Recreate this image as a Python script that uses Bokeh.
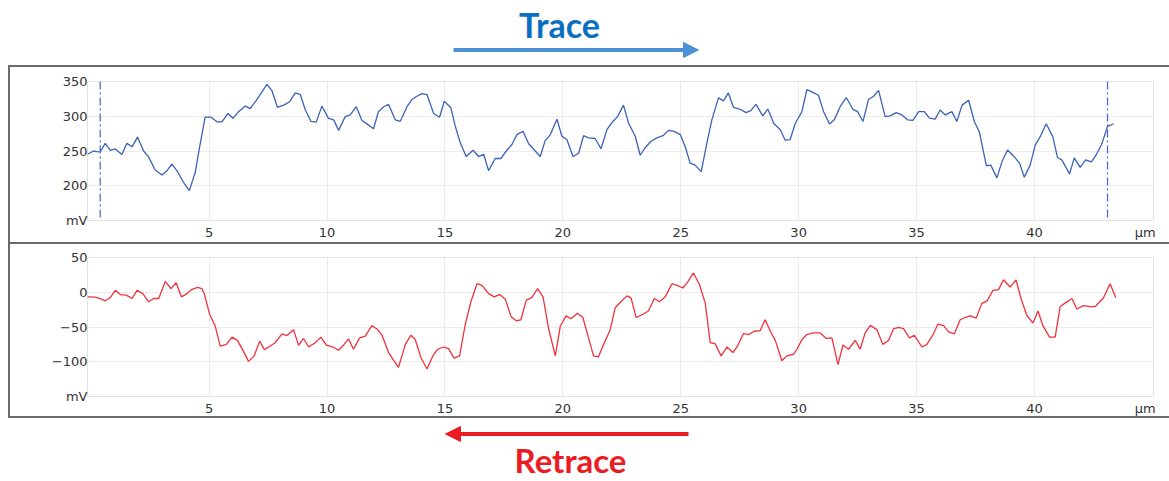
from bokeh.plotting import figure
from bokeh.models import Range1d, FixedTicker, Span, Arrow, NormalHead, Spacer
from bokeh.layouts import column, row
from bokeh.core.properties import value
from bokeh.embed import file_html
from bokeh.resources import INLINE

# ---------------- data ----------------
trace_x = [
    -0.16, 0.10, 0.24, 0.38, 0.59, 0.81, 1.02, 1.30, 1.51, 1.73,
    1.96, 2.22, 2.43, 2.71, 3.00, 3.21, 3.42, 3.63, 3.91, 4.16,
    4.41, 4.59, 4.83, 5.08, 5.33, 5.54, 5.80, 6.01, 6.25, 6.53,
    6.74, 7.00, 7.24, 7.45, 7.66, 7.90, 8.16, 8.41, 8.65, 8.86,
    9.08, 9.32, 9.54, 9.78, 10.06, 10.28, 10.49, 10.77, 10.98, 11.24,
    11.48, 11.69, 11.97, 12.18, 12.40,
    12.61, 12.89, 13.10, 13.39, 13.60, 13.81, 14.02, 14.24, 14.52, 14.77,
    14.97, 15.25, 15.44, 15.65, 15.90, 16.19, 16.43, 16.64, 16.85, 17.13,
    17.37, 17.60, 17.84, 18.05, 18.31, 18.55, 18.79, 19.04, 19.25, 19.47,
    19.75, 19.96, 20.17, 20.43, 20.67, 20.88, 21.09, 21.37, 21.62, 21.87,
    22.12, 22.32, 22.57, 22.79, 23.07, 23.28, 23.49, 23.74, 23.99, 24.25,
    24.48, 24.72, 24.98, 25.19, 25.40, 25.61, 25.87, 26.11, 26.32, 26.60,
    26.81, 27.02, 27.24, 27.52, 27.77, 27.97, 28.19, 28.48, 28.69,
    28.80, 28.94, 29.22, 29.43, 29.64, 29.86, 30.14, 30.35, 30.56, 30.84,
    31.06, 31.31, 31.51, 31.76, 32.02, 32.30, 32.50, 32.73, 32.96, 33.18,
    33.39, 33.67, 33.88, 34.14, 34.38, 34.62, 34.85, 35.09, 35.33, 35.55,
    35.79, 36.00, 36.22, 36.50, 36.71, 36.93, 37.21, 37.45, 37.67, 37.96,
    38.15, 38.41, 38.62, 38.86, 39.11, 39.37, 39.57, 39.82, 40.03, 40.27,
    40.50, 40.78, 40.98, 41.16, 41.49, 41.69, 41.94, 42.17, 42.42, 42.61,
    42.85, 43.10, 43.36,
]
trace_mv = [
    245.3, 250, 249.1, 248.6, 261, 251, 253, 245, 261, 256,
    270, 250, 241.5, 222.6, 215.6, 221.7, 231, 221.7, 205, 193,
    219.4, 254.7, 298.6, 298.6, 292, 292, 304, 297, 306.6, 314.6,
    311, 323, 335, 345.8, 337, 312.7, 316, 320.8, 333.5, 331.6,
    309, 292.5, 291.5, 314.6, 297, 294.8, 279.7, 299.5, 302, 313.7,
    293.9, 289, 282, 306.6, 313.7,
    317, 294.8, 292.5, 313.7, 324, 328.8, 332.5, 331, 304, 298.6,
    321.7, 312.3, 285.4, 261.8, 242, 251, 242, 245.3, 221.7, 239.2,
    239.2, 250, 259.4, 273.6, 278.3, 260.4, 251.4, 242, 265, 273.6,
    295.8, 271.2, 266.5, 242, 246.7, 272, 269, 268, 253.3, 280.7,
    292.5, 299.5, 316, 290, 271.2, 243.9, 254.7, 264, 268.9, 272,
    279.7, 278.3, 273.6, 256.1, 232.5, 229.7, 220.3, 261.8, 294.8, 326.4,
    322.2, 333.5, 312.7, 310, 305.2, 308, 317, 300.5, 310.4,
    301.9, 290, 280.7, 265.6, 266.5, 290, 306.6, 338.2, 335, 330.2,
    306.6, 289, 294.8, 313.7, 326.9, 310, 306.6, 292.5, 324, 328.8,
    337.3, 299.5, 300.5, 305.2, 301.9, 294.8, 294, 306.6, 306.6, 297.2,
    295.8, 309, 301.9, 306.6, 292.5, 316, 323, 292.5, 276.9, 228.8,
    229.7, 211.3, 234.4, 251.4, 242.9, 232.5, 212.3, 229.7, 258, 272.2,
    289.2, 270.3, 240.6, 237.3, 217, 240.1, 226.4, 237.3, 234.4, 243.9,
    259.4, 285.4, 289.2,
]
retrace_x = [
    -0.16, 0.17, 0.38, 0.59, 0.81, 1.02, 1.23, 1.48, 1.73, 1.94,
    2.19, 2.43, 2.64, 2.86, 3.14, 3.38, 3.60, 3.82, 4.06, 4.27,
    4.51, 4.69, 4.79, 5.02, 5.26, 5.47, 5.73, 5.97, 6.20, 6.46,
    6.67, 6.91, 7.14, 7.34, 7.59, 7.80, 8.09, 8.30, 8.58, 8.79,
    9.00, 9.22, 9.50, 9.74, 9.97, 10.25, 10.49, 10.70, 10.91, 11.12,
    11.38, 11.62, 11.90, 12.12, 12.33,
    12.61, 12.82, 13.03, 13.32, 13.56, 13.74, 13.98, 14.24, 14.49, 14.69,
    14.94, 15.15, 15.39, 15.62, 15.86, 16.10, 16.36, 16.57, 16.85, 17.09,
    17.32, 17.56, 17.80, 18.02, 18.22, 18.45, 18.69, 18.93, 19.16, 19.39,
    19.68, 19.89, 20.14, 20.34, 20.62, 20.85, 21.09, 21.30, 21.51, 21.73,
    22.01, 22.22, 22.46, 22.72, 22.89, 23.11, 23.40, 23.63, 23.88, 24.10,
    24.34, 24.63, 24.84, 25.09, 25.29, 25.54, 25.80, 26.04, 26.25, 26.46,
    26.71, 26.96, 27.21, 27.41, 27.66, 27.87, 28.12, 28.37, 28.58,
    28.80, 29.01, 29.29, 29.50, 29.79, 29.93, 30.14, 30.35, 30.63, 30.92,
    31.17, 31.41, 31.67, 31.88, 32.12, 32.40, 32.61, 32.82, 33.04, 33.32,
    33.57, 33.81, 34.02, 34.24, 34.45, 34.70, 34.90, 35.23, 35.44, 35.70,
    35.91, 36.15, 36.36, 36.60, 36.85, 37.07, 37.28, 37.53, 37.77, 37.99,
    38.24, 38.48, 38.69, 38.97, 39.22, 39.43, 39.68, 39.94, 40.15, 40.36,
    40.64, 40.88, 41.09, 41.34, 41.59, 41.80, 42.08, 42.34, 42.57, 42.93,
    43.21, 43.45,
]
retrace_mv = [
    -6.6, -7.1, -9, -12.3, -7.5, 2.8, -3.3, -4.2, -9, 2.8,
    -1.9, -13.7, -9, -9, 15.6, 5.2, 13.7, -6.6, -1.9, 4.2,
    7.1, 5.2, -1.9, -31.6, -49, -77.4, -75, -64.6, -69.3, -85.4,
    -99.5, -91.5, -70.3, -82.5, -77.4, -72.6, -59.9, -62.3, -53.8, -76.4,
    -66.5, -78.8, -72.6, -64.6, -76, -78.8, -83.5, -76, -67, -82,
    -65.6, -63.2, -48.1, -52.8, -61.8,
    -86.8, -97.7, -108, -75, -61.8, -67.9, -93.9, -110.4, -91.5, -82,
    -78.8, -81.1, -94.8, -91.5, -46.7, -13.7, 12.3, 9.9, -1.9, -6.6,
    -3.3, -9.9, -34.9, -41, -39.6, -11.3, -7.5, 5.2, -6.6, -51.4,
    -91.5, -49, -34, -38.2, -30.2, -36.3, -65.6, -91.5, -92.9, -75,
    -53.8, -22.2, -13.7, -5.2, -8, -36.3, -31.6, -26.9, -9, -13.7,
    -6.6, 12.3, 9.9, 6.1, 14.6, 27.8, 10.8, -16, -72.6, -74.1,
    -91.5, -78.8, -86.8, -77.4, -59.4, -60.9, -56.1, -55.2, -39.6,
    -56.1, -69.3, -98.6, -91.5, -89.2, -82, -67.9, -60.9, -58.5, -58.5,
    -66.5, -65.6, -104.2, -75.9, -82, -69.3, -82, -58.5, -47.6, -53.8,
    -75, -69.3, -52.8, -50.5, -52.4, -65.6, -61.8, -78.8, -75, -60.9,
    -45.8, -48.1, -57.1, -59.9, -39.6, -36.3, -34, -37.3, -16, -12.7,
    2.8, 3.8, 17.9, 7.5, 17.9, -9, -33.5, -44.3, -26.9, -48.1,
    -64.6, -64.6, -20.8, -14.6, -9, -24.1, -19.3, -20.8, -20.8, -8,
    12.3, -8,
]
x_ticks = [5, 10, 15, 20, 25, 30, 35, 40]
trace_y_ticks = [200, 250, 300, 350]
retrace_y_ticks = [-100, -50, 0, 50]
x_unit = "µm"
y_unit = "mV"
cursor_x = [0.38, 43.10]
direction_labels = ["Trace", "Retrace"]

# ---------------- styling ----------------
PAGE_W = 1169
LEFT_GAP = 8
W = PAGE_W - LEFT_GAP
FRAME = "#6a6a6a"
TICK_FONT = "DejaVu Sans"


def chart(xs, ys, y_lo, y_hi, y_ticks, color, height, top, shadow):
    p = figure(width=W, height=height,
               x_range=Range1d(-0.16, 45.05), y_range=Range1d(y_lo, y_hi),
               output_backend="svg", toolbar_location=None,
               min_border_left=79, min_border_right=16,
               min_border_top=top, min_border_bottom=20,
               border_fill_color=None, background_fill_color="white",
               outline_line_color="#e2e2e2", outline_line_width=1,
               styles={"box-shadow": shadow})
    p.line(xs, ys, line_color=color, line_width=1.3)

    p.xaxis.ticker = FixedTicker(ticks=x_ticks + [44.7])
    p.xaxis.major_label_overrides = {44.7: x_unit}
    p.yaxis.ticker = FixedTicker(ticks=[y_lo] + y_ticks)
    p.yaxis.major_label_overrides = {y_lo: y_unit}
    p.xgrid.ticker = FixedTicker(ticks=x_ticks)
    p.ygrid.ticker = FixedTicker(ticks=y_ticks)
    p.grid.grid_line_color = "#ececec"
    p.grid.grid_line_width = 1
    for ax in (p.xaxis, p.yaxis):
        ax.axis_line_color = None
        ax.major_tick_line_color = None
        ax.minor_tick_line_color = None
        ax.major_tick_out = 0
        ax.major_tick_in = 0
        ax.major_label_text_font = TICK_FONT
        ax.major_label_text_font_size = "13px"
        ax.major_label_text_color = "#333333"
    p.xaxis.major_label_standoff = 4
    p.yaxis.major_label_standoff = 0
    return p


def banner(height, y_top, y_bottom):
    p = figure(width=PAGE_W, height=height,
               x_range=Range1d(0, PAGE_W), y_range=Range1d(y_bottom, y_top),
               output_backend="svg", toolbar_location=None,
               x_axis_location=None, y_axis_location=None, min_border=0,
               border_fill_color=None, background_fill_color=None,
               outline_line_color=None)
    p.grid.visible = False
    return p


# header: "Trace" and arrow to the right (page coordinates)
head = banner(65, 0, 65)
BLUE_T = "#0a6fc0"
BLUE_A = "#4d90d3"
head.text(x=[559], y=[24], text=[direction_labels[0]], text_font=value("Lato"),
          text_font_style="bold", text_font_size="34px", text_color=BLUE_T,
          text_align="center", text_baseline="alphabetic")
head.add_layout(Arrow(end=NormalHead(size=15, fill_color=BLUE_A, line_color=BLUE_A),
                      x_start=453, y_start=49.5, x_end=698, y_end=49.5,
                      line_color=BLUE_A, line_width=4))

top = chart(trace_x, trace_mv, 150, 350, trace_y_ticks, "#3b62b8", 177, 16,
            f"inset 2px 2px 0 0 {FRAME}")
for cx in cursor_x:
    top.add_layout(Span(location=cx, dimension="height", line_color="#4a6fc0",
                        line_dash="8 3 2 3", line_width=1.3))

bottom = chart(retrace_x, retrace_mv, -150, 50, retrace_y_ticks, "#f0323e", 176, 15,
               f"inset 2px 2px 0 0 {FRAME}, inset 0 -2px 0 0 {FRAME}")

# footer: arrow to the left and "Retrace" (page coordinates)
foot = banner(63, 418, 481)
RED = "#ec1c24"
foot.add_layout(Arrow(end=NormalHead(size=15, fill_color=RED, line_color=RED),
                      x_start=688, y_start=433.5, x_end=445, y_end=433.5,
                      line_color=RED, line_width=4))
foot.text(x=[570], y=[459], text=[direction_labels[1]], text_font=value("Lato"),
          text_font_style="bold", text_font_size="33px", text_color=RED,
          text_align="center", text_baseline="alphabetic")

layout = column(head,
                row(Spacer(width=LEFT_GAP, height=177), top, spacing=0),
                row(Spacer(width=LEFT_GAP, height=176), bottom, spacing=0),
                foot, spacing=0)
open("out.html", "w").write(file_html(layout, INLINE))
